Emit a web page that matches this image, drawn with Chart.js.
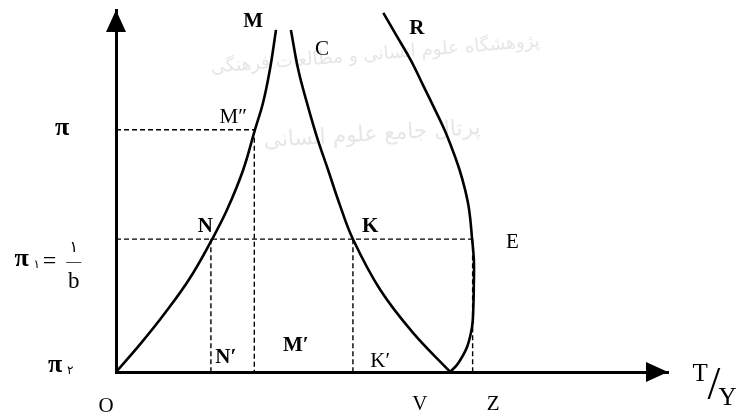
<!DOCTYPE html>
<html>
<head>
<meta charset="utf-8">
<script src="https://cdn.jsdelivr.net/npm/chart.js@4"></script>
<style>
  html, body { margin: 0; padding: 0; background: #fff; }
</style>
</head>
<body>
<canvas id="chart" width="741" height="416"></canvas>
<script>
// Curves (x = T/Y, y = inflation level)
const curveM = [[0, 0], [3.9, 7.7], [7.9, 16.3], [11.9, 25.9], [15.5, 36.7], [17.9, 44.8],
  [20.5, 55.8], [22.4, 66.9], [23.7, 74.3], [24.8, 83.4], [25.8, 94.5]];
const curveC = [[28.2, 94.5], [29.4, 83.4], [30.8, 74.3], [32.4, 64.9], [34.2, 55.8],
  [36.1, 46.1], [38.2, 36.7], [42.6, 22.7], [47.9, 10.8], [53.9, 0]];
const curveR = [[43.1, 99.2], [45.3, 92.7], [47.5, 86.2], [49.6, 78.9], [51.45, 72.4],
  [52.98, 66.85], [54.27, 61.3], [55.4, 55.8], [56.29, 50.3], [56.94, 44.8], [57.4, 37.0],
  [57.7, 30.9], [57.7, 24.6], [57.6, 17.1], [57.4, 12.4], [56.6, 6.9], [55.2, 2.5], [53.9, 0]];

// Reference levels and projections
const piLevel = 66.9;      // π
const pi1Level = 36.7;     // π1 = 1/b
const xM2 = 22.3, xN = 15.3, xK = 38.2, xE = 57.5, xZ = 57.5;

const guides = [
  [[0, piLevel], [xM2, piLevel]],
  [[xM2, piLevel], [xM2, 0]],
  [[0, pi1Level], [xE, pi1Level]],
  [[xN, pi1Level], [xN, 0]],
  [[xK, pi1Level], [xK, 0]],
  [[xZ, pi1Level], [xZ, 0]]
];

// Text labels, placed in data units
const labels = [
  { t: 'M', x: 22.1, y: 96.7, b: 1 },
  { t: 'C', x: 33.2, y: 89.0 },
  { t: 'R', x: 48.5, y: 95.0, b: 1 },
  { t: 'M″', x: 18.9, y: 70.2 },
  { t: 'π', x: -8.7, y: 67.4, s: 26, b: 1 },
  { t: 'N', x: 14.4, y: 40.3, b: 1 },
  { t: 'K', x: 41.0, y: 40.3, b: 1 },
  { t: 'E', x: 63.9, y: 35.9 },
  { t: 'N′', x: 17.7, y: 3.9, b: 1 },
  { t: 'M′', x: 29.0, y: 7.2, b: 1 },
  { t: 'K′', x: 42.6, y: 2.8 },
  { t: 'O', x: -1.6, y: -9.4 },
  { t: 'V', x: 49.0, y: -9.1 },
  { t: 'Z', x: 60.8, y: -9.1 },
  { t: 'π', x: -9.8, y: 1.9, s: 26, b: 1 },
  { t: '۲', x: -7.4, y: 0.4, s: 12, f: 'DejaVu Sans' },
  { t: 'π', x: -15.2, y: 31.2, s: 26, b: 1 },
  { t: '۱', x: -12.8, y: 29.6, s: 12, f: 'DejaVu Sans' },
  { t: '=', x: -10.7, y: 30.6, s: 24 },
  { t: '۱', x: -6.8, y: 34.4, s: 16, f: 'DejaVu Sans' },
  { t: '—', x: -6.8, y: 30.5, s: 15 },
  { t: 'b', x: -6.8, y: 25.0, s: 23 },
  { t: 'T', x: 94.2, y: -0.6, s: 25 },
  { t: '/', x: 96.4, y: -4.0, s: 46 },
  { t: 'Y', x: 98.6, y: -7.4, s: 25 }
];

// Faint background watermark (centre in data units, target width in px)
const watermark = [
  { t: 'پژوهشگاه علوم انسانی و مطالعات فرهنگی', x: 41.8, y: 87.6, r: -0.08, w: 330 },
  { t: 'پرتال جامع علوم انسانی', x: 41.3, y: 65.5, r: -0.06, w: 217 }
];

const toPts = arr => arr.map(p => ({ x: p[0], y: p[1] }));

const curveStyle = { showLine: true, pointRadius: 0, borderColor: '#000', borderWidth: 2.6,
  tension: 0.4, fill: false };
const dashStyle = { showLine: true, pointRadius: 0, borderColor: '#000', borderWidth: 1.4,
  borderDash: [5, 3], tension: 0, fill: false };

const datasets = [
  ...guides.map(g => ({ ...dashStyle, data: toPts(g) })),
  { ...curveStyle, data: toPts(curveM) },
  { ...curveStyle, data: toPts(curveC) },
  { ...curveStyle, data: toPts(curveR) }
];

const decorPlugin = {
  id: 'decor',
  beforeDatasetsDraw(chart) {
    const { ctx, scales: { x, y } } = chart;
    ctx.save();
    ctx.fillStyle = '#e6e6e6';
    ctx.textAlign = 'center';
    ctx.textBaseline = 'middle';
    watermark.forEach(w => {
      ctx.font = '20px "DejaVu Sans"';
      const size = 20 * w.w / ctx.measureText(w.t).width;
      ctx.save();
      ctx.translate(x.getPixelForValue(w.x), y.getPixelForValue(w.y));
      ctx.rotate(w.r);
      ctx.font = `${size.toFixed(1)}px "DejaVu Sans"`;
      ctx.fillText(w.t, 0, 0);
      ctx.restore();
    });
    ctx.restore();
  },
  afterDraw(chart) {
    const { ctx, chartArea: a, scales: { x, y } } = chart;
    ctx.save();
    ctx.fillStyle = '#000';
    // arrow heads on both axes
    ctx.beginPath();
    ctx.moveTo(a.left, a.top);
    ctx.lineTo(a.left - 10, a.top + 22);
    ctx.lineTo(a.left + 10, a.top + 22);
    ctx.closePath();
    ctx.fill();
    ctx.beginPath();
    ctx.moveTo(a.right, a.bottom);
    ctx.lineTo(a.right - 22, a.bottom - 10);
    ctx.lineTo(a.right - 22, a.bottom + 10);
    ctx.closePath();
    ctx.fill();

    ctx.textAlign = 'center';
    ctx.textBaseline = 'middle';
    labels.forEach(l => {
      ctx.font = `${l.b ? 'bold ' : ''}${l.s || 21}px "${l.f || 'Liberation Serif'}"`;
      ctx.fillText(l.t, x.getPixelForValue(l.x), y.getPixelForValue(l.y));
    });
    ctx.restore();
  }
};

new Chart(document.getElementById('chart'), {
  type: 'scatter',
  data: { datasets },
  options: {
    responsive: false,
    devicePixelRatio: 1,
    animation: false,
    layout: { padding: { left: 116, right: 73, top: 10, bottom: 44 } },
    plugins: { legend: { display: false }, tooltip: { enabled: false } },
    scales: {
      x: {
        type: 'linear', min: 0, max: 89,
        grid: { display: false, drawTicks: false },
        ticks: { display: false },
        border: { display: true, width: 3, color: '#000' }
      },
      y: {
        type: 'linear', min: 0, max: 100,
        grid: { display: false, drawTicks: false },
        ticks: { display: false },
        border: { display: true, width: 3, color: '#000' }
      }
    }
  },
  plugins: [decorPlugin]
});
</script>
</body>
</html>
